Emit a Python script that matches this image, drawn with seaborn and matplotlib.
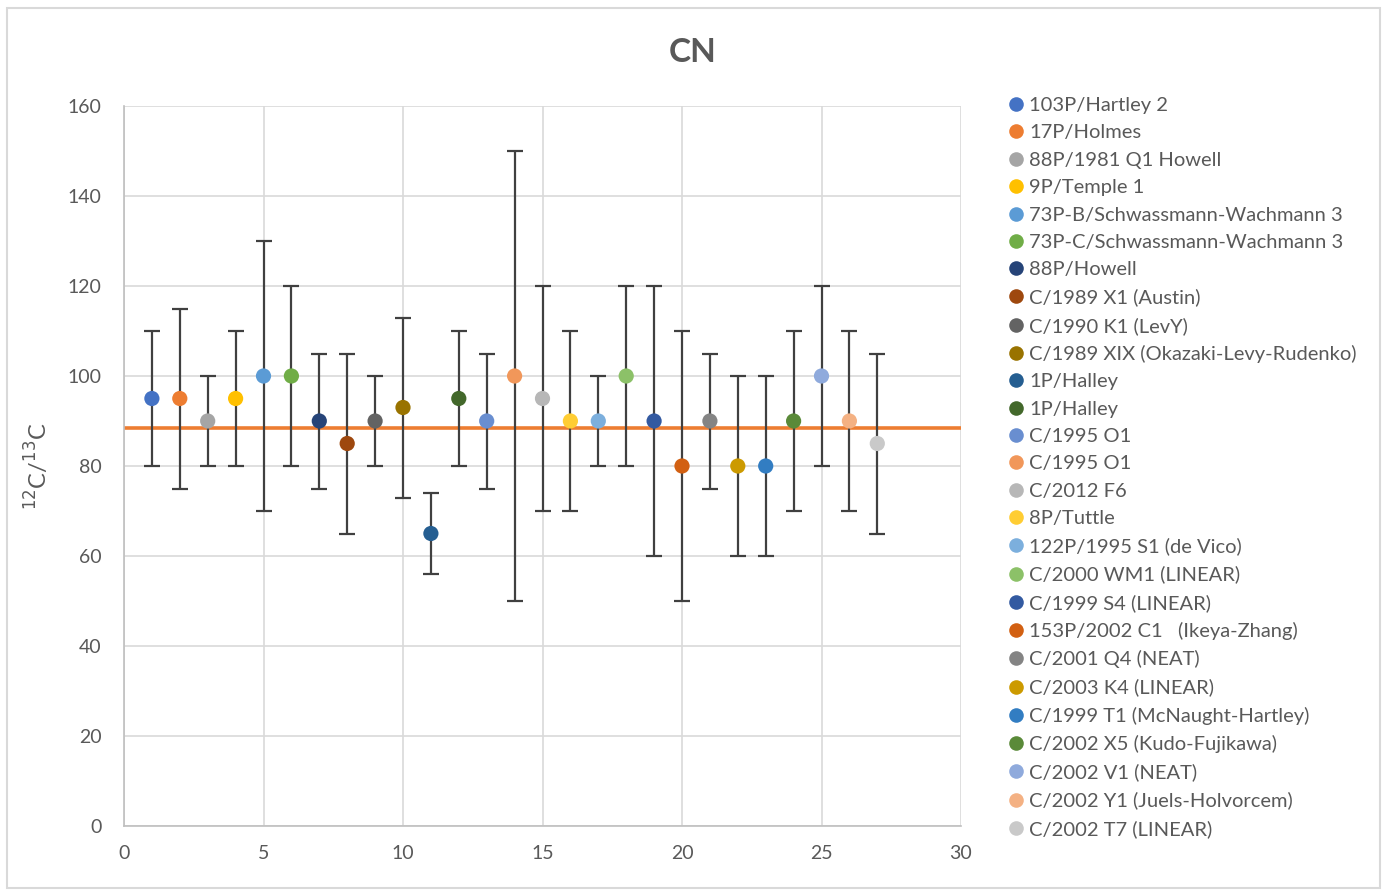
import matplotlib
matplotlib.use("Agg")
import matplotlib.pyplot as plt
from matplotlib.lines import Line2D
from matplotlib.patches import Rectangle
import numpy as np
import pandas as pd
import seaborn as sns

comets = [
    "103P/Hartley 2", "17P/Holmes", "88P/1981 Q1 Howell", "9P/Temple 1",
    "73P-B/Schwassmann-Wachmann 3", "73P-C/Schwassmann-Wachmann 3",
    "88P/Howell", "C/1989 X1 (Austin)", "C/1990 K1 (LevY)",
    "C/1989 XIX (Okazaki-Levy-Rudenko)", "1P/Halley", "1P/Halley",
    "C/1995 O1", "C/1995 O1", "C/2012 F6", "8P/Tuttle",
    "122P/1995 S1 (de Vico)", "C/2000 WM1 (LINEAR)", "C/1999 S4 (LINEAR)",
    "153P/2002 C1   (Ikeya-Zhang)", "C/2001 Q4 (NEAT)", "C/2003 K4 (LINEAR)",
    "C/1999 T1 (McNaught-Hartley)", "C/2002 X5 (Kudo-Fujikawa)",
    "C/2002 V1 (NEAT)", "C/2002 Y1 (Juels-Holvorcem)", "C/2002 T7 (LINEAR)",
]
index = list(range(1, 28))
ratio = [95, 95, 90, 95, 100, 100, 90, 85, 90, 93, 65, 95, 90, 100, 95,
         90, 90, 100, 90, 80, 90, 80, 80, 90, 100, 90, 85]
err_low = [15, 20, 10, 15, 30, 20, 15, 20, 10, 20, 9, 15, 15, 50, 25,
           20, 10, 20, 30, 30, 15, 20, 20, 20, 20, 20, 20]
err_high = [15, 20, 10, 15, 30, 20, 15, 20, 10, 20, 9, 15, 15, 50, 25,
            20, 10, 20, 30, 30, 15, 20, 20, 20, 20, 20, 20]
reference_ratio = 88.4

colors = [
    "#4472C4", "#ED7D31", "#A5A5A5", "#FFC000", "#5B9BD5", "#70AD47",
    "#264478", "#9E480E", "#636363", "#997300", "#255E91", "#43682B",
    "#698ED0", "#F1975A", "#B7B7B7", "#FFCD33", "#7CAFDD", "#8CC168",
    "#335AA1", "#D26012", "#848484", "#CC9A00", "#327DC2", "#5A8A39",
    "#8FAADC", "#F4B183", "#C9C9C9",
]

df = pd.DataFrame({"n": index, "ratio": ratio, "lo": err_low,
                   "hi": err_high, "key": [str(i) for i in index]})

sns.set_theme(style="white")
plt.rcParams["font.family"] = ["Lato", "DejaVu Sans"]
text_gray = "#595959"

fig = plt.figure(figsize=(13.86, 8.92), dpi=100)
ax = fig.add_axes([124 / 1386, 66 / 892, 837 / 1386, 720 / 892])

# error bars behind the markers
ax.errorbar(df["n"], df["ratio"], yerr=[df["lo"], df["hi"]], fmt="none",
            ecolor="#404040", elinewidth=1.6, capsize=5.5, capthick=1.6,
            zorder=3)

sns.scatterplot(data=df, x="n", y="ratio", hue="key",
                palette=dict(zip(df["key"], colors)), s=120, linewidth=0,
                legend=False, ax=ax, zorder=4)

ax.axhline(reference_ratio, color="#ED7D31", lw=2.6, zorder=2)

ax.set_xlim(0, 30)
ax.set_ylim(0, 160)
ax.set_xticks(np.arange(0, 31, 5))
ax.set_yticks(np.arange(0, 161, 20))
ax.grid(True, color="#D9D9D9", lw=1.2, zorder=0)
ax.set_axisbelow(True)
for side in ["top", "right"]:
    ax.spines[side].set_visible(False)
for side in ["left", "bottom"]:
    ax.spines[side].set_color("#BFBFBF")
    ax.spines[side].set_linewidth(1.2)
ax.tick_params(axis="both", length=0, labelsize=14, colors=text_gray)
ax.tick_params(axis="x", pad=14)
ax.tick_params(axis="y", pad=16)
ax.set_xlabel("")
ax.set_ylabel(r"$^{12}$C/$^{13}$C", fontsize=17, color=text_gray, labelpad=12)

fig.text(0.5, 1 - 52 / 892, "CN", ha="center", va="center", fontsize=24,
         fontweight="bold", color=text_gray)

handles = [Line2D([], [], marker="o", ls="none", markersize=10.5,
                  markerfacecolor=c, markeredgewidth=0) for c in colors]
leg = fig.legend(handles, comets, loc="upper left",
                 bbox_to_anchor=(1009 / 1386, 1 - 97 / 892), frameon=False,
                 fontsize=14.5, labelspacing=0.51, handlelength=0.7,
                 handletextpad=0.3, borderaxespad=0, borderpad=0)
for t in leg.get_texts():
    t.set_color(text_gray)

fig.patches.append(Rectangle((7 / 1386, 4 / 892), 1373 / 1386, 880 / 892,
                             transform=fig.transFigure, fill=False,
                             edgecolor="#D9D9D9", lw=1.5))

fig.savefig("out.png", dpi=100)
